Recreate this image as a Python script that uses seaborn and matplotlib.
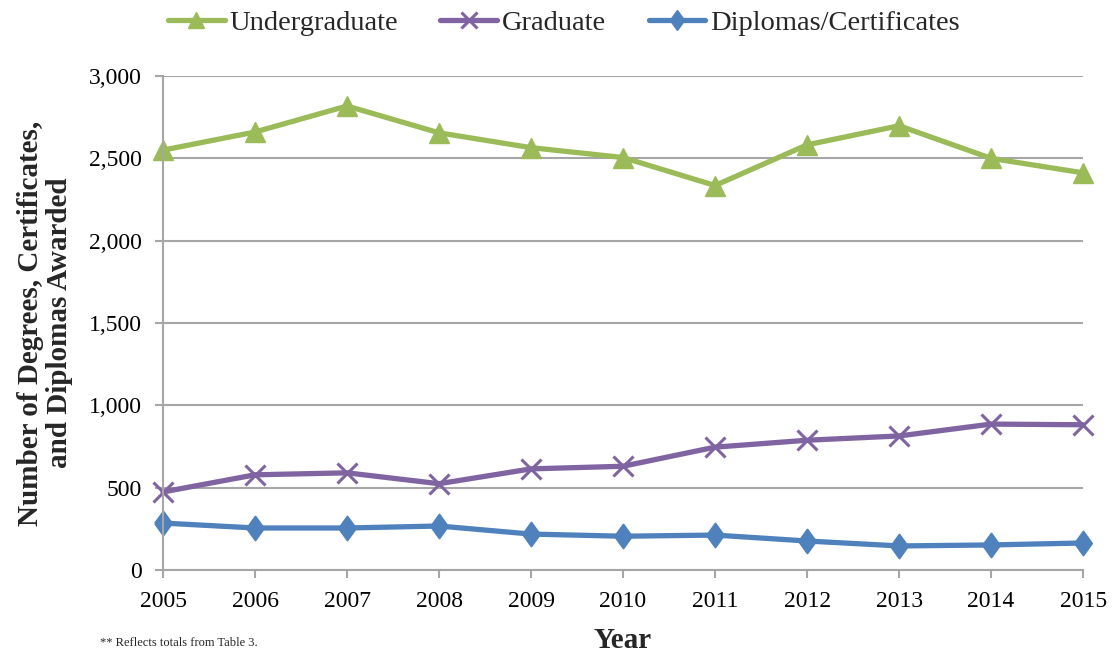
import matplotlib
matplotlib.use("Agg")
import matplotlib.pyplot as plt
import pandas as pd
import seaborn as sns
from matplotlib.ticker import FuncFormatter

# values
years = [2005, 2006, 2007, 2008, 2009, 2010, 2011, 2012, 2013, 2014, 2015]
undergrad = [2550, 2660, 2818, 2655, 2565, 2505, 2335, 2582, 2698, 2500, 2412]
graduate = [474, 578, 590, 524, 614, 630, 746, 788, 814, 886, 882]
diplomas = [285, 255, 255, 267, 218, 205, 212, 176, 146, 152, 164]

series_names = ["Undergraduate", "Graduate", "Diplomas/Certificates"]
colors = ["#9BBB59", "#8064A2", "#4F81BD"]
# a slightly tall diamond, like the Excel one
tall_diamond = [(-0.72, 0), (0, 1), (0.72, 0), (0, -1), (-0.72, 0)]
markers = ["^", "x", tall_diamond]
msizes = [15, 14, 17]
mews = [1, 2.2, 1.5]

df = pd.DataFrame({"Year": years, series_names[0]: undergrad,
                   series_names[1]: graduate, series_names[2]: diplomas})
df_long = df.melt(id_vars="Year", var_name="Type", value_name="Count")

sns.set_theme(style="white")
plt.rcParams["font.family"] = ["Liberation Serif", "DejaVu Serif"]

fig = plt.figure(figsize=(11.12, 6.52), dpi=100)
ax = fig.add_axes([0.1466, 0.1258, 0.8274, 0.7576])

for name, c, m, ms, mw in zip(series_names, colors, markers, msizes, mews):
    sub = df_long[df_long["Type"] == name]
    sns.lineplot(data=sub, x="Year", y="Count", ax=ax, color=c, linewidth=3.8,
                 marker=m, markersize=ms, markeredgecolor=c, markeredgewidth=mw,
                 label=name, clip_on=False)

ax.set_xlim(2005, 2015)
ax.set_ylim(0, 3000)
ax.set_xticks(years)
ax.set_yticks(range(0, 3001, 500))
ax.yaxis.set_major_formatter(FuncFormatter(lambda v, p: f"{int(v):,}"))
ax.grid(axis="y", color="#A6A6A6", linewidth=1.5)
ax.set_axisbelow(True)
for s in ["top", "right"]:
    ax.spines[s].set_visible(False)
for s in ["left", "bottom"]:
    ax.spines[s].set_color("#A6A6A6")
    ax.spines[s].set_linewidth(1.5)
ax.tick_params(axis="both", which="both", direction="out", length=6, width=1.5,
               color="#A6A6A6", labelsize=17, labelcolor="black",
               bottom=True, left=True)
ax.tick_params(axis="x", pad=9)
ax.tick_params(axis="y", pad=9)

ax.set_xlabel("Year", fontsize=21, fontweight="bold")
ax.xaxis.set_label_coords(0.5, -0.115)
ax.set_ylabel("Number of Degrees, Certificates,\nand Diplomas Awarded", fontsize=21,
              fontweight="bold", linespacing=1.1)
ax.yaxis.set_label_coords(-0.098, 0.5)

ax.get_legend().remove()
handles, labels = ax.get_legend_handles_labels()
leg = fig.legend(handles, labels, loc="center left", bbox_to_anchor=(0.151, 0.965),
                 ncol=3, frameon=False, fontsize=20.5, handlelength=2.0,
                 handletextpad=0.15, columnspacing=1.5, borderpad=0, borderaxespad=0)
for h in leg.legend_handles:
    h.set_markersize(h.get_markersize() * 0.8)

fig.text(0.09, 0.005, "** Reflects totals from Table 3.", fontsize=9, ha="left", va="bottom")

fig.savefig("out.png", dpi=100)
